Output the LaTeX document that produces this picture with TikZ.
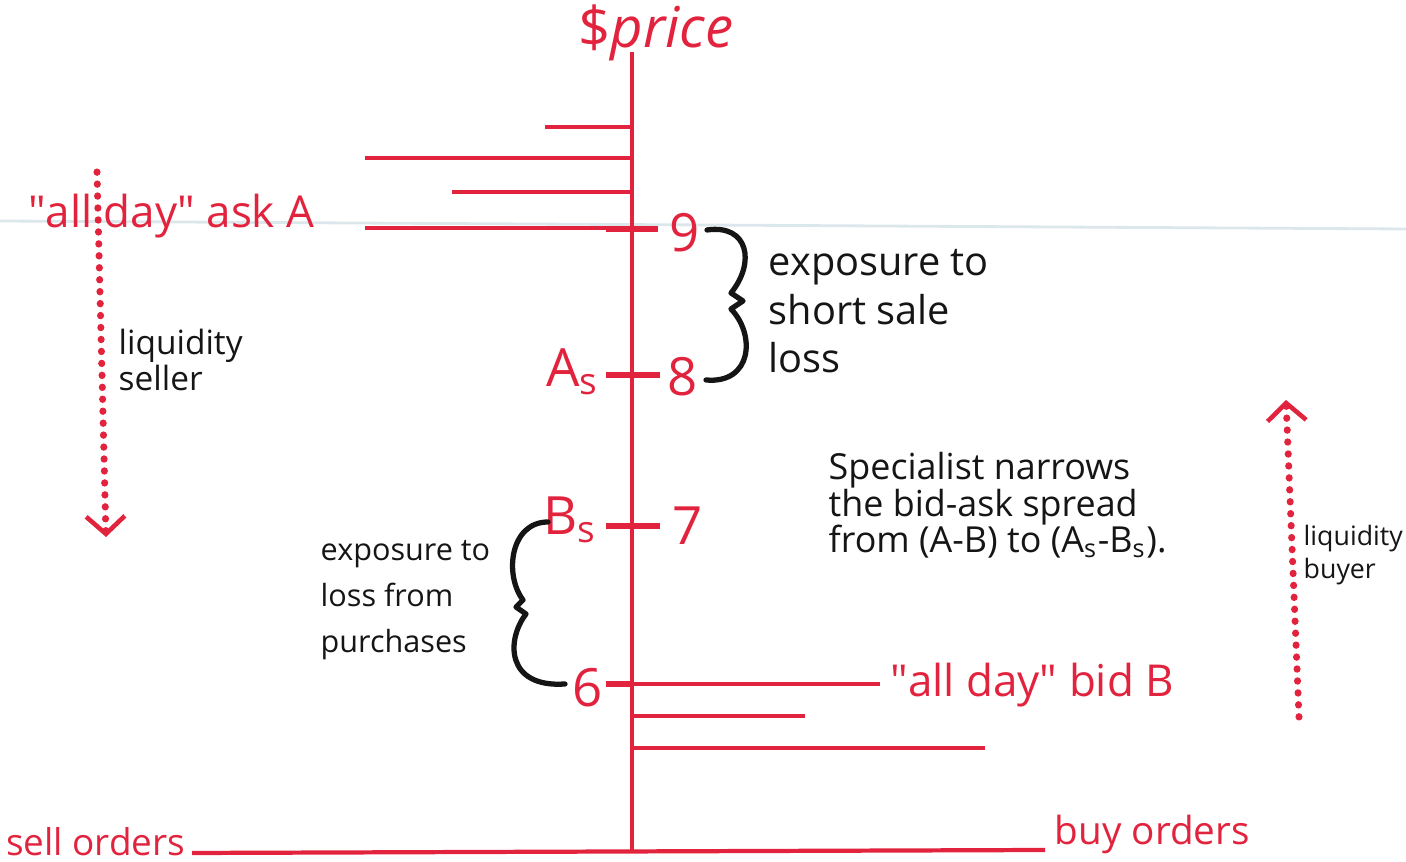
\documentclass[tikz,border=0pt]{standalone}
\usepackage{fontspec}
\setmainfont{Open Sans}
\usepackage{tikz}
\usetikzlibrary{arrows.meta}
\definecolor{inkred}{HTML}{E2233E}
\definecolor{inkblack}{HTML}{151515}
\definecolor{paperrule}{HTML}{DCE7EC}

\begin{document}
\begin{tikzpicture}[x=0.01cm, y=-0.01cm,
  bar/.style={draw=inkred, line width=1.2pt},
  tickmark/.style={draw=inkred, line width=1.6pt},
  lbl/.style={text=inkred, inner sep=0pt, font=\fontsize{12.5}{12.5}\selectfont},
  num/.style={text=inkred, inner sep=0pt, font=\fontsize{15}{15}\selectfont},
  note/.style={text=inkblack, inner sep=0pt, align=left},
  curly/.style={draw=inkblack, line width=1.5pt, line cap=round, line join=round},
  flow/.style={draw=inkred, line width=2pt, line cap=round, dash pattern=on 0.1pt off 3.3pt,
    -{Straight Barb[length=5pt, width=11pt, line width=1.3pt]}}]

  \useasboundingbox (0,0) rectangle (1406,862);

  % paper rule
  \coordinate (ruleL) at (0,221);
  \coordinate (ruleR) at (1406,229);
  \draw[paperrule, line width=0.8pt] (ruleL) -- (ruleR);

  % axes
  \coordinate (ytop) at (632,52);
  \coordinate (yfoot) at (632,852);
  \coordinate (xleft) at (192,853);
  \coordinate (xright) at (1045,850);
  \draw[bar] (ytop) -- (yfoot);
  \draw[bar] (xleft) -- (xright);
  \node[lbl, font=\fontsize{16}{16}\selectfont, anchor=base] (price) at (656,48) {\$\textit{price}};
  \node[lbl, font=\fontsize{10.5}{10.5}\selectfont, anchor=base east] (sell) at (186,856) {sell orders};
  \node[lbl, font=\fontsize{11}{11}\selectfont, anchor=base west] (buy) at (1054,845) {buy orders};

  % sell orders
  \foreach \i/\y/\x in {1/127/545, 2/158/365, 3/192/452, 4/228/365} {
    \coordinate (ask\i) at (\x,\y);
    \coordinate (ask\i axis) at (632,\y);
    \draw[bar] (ask\i) -- (ask\i axis);
  }
  \node[lbl, anchor=base east] (askA) at (315,228) {\textquotedbl all day\textquotedbl\ ask A};

  % buy orders
  \foreach \i/\y/\x in {1/684/880, 2/716/805, 3/748/985} {
    \coordinate (bid\i axis) at (632,\y);
    \coordinate (bid\i) at (\x,\y);
    \draw[bar] (bid\i axis) -- (bid\i);
  }
  \node[lbl, anchor=base west] (bidB) at (890,697) {\textquotedbl all day\textquotedbl\ bid B};

  % price ticks
  \coordinate (t9a) at (606,229);  \coordinate (t9b) at (658,229);
  \coordinate (t8a) at (606,375);  \coordinate (t8b) at (660,375);
  \coordinate (t7a) at (606,526);  \coordinate (t7b) at (660,526);
  \coordinate (t6a) at (606,684);  \coordinate (t6b) at (634,684);
  \draw[tickmark] (t9a) -- (t9b);
  \draw[tickmark] (t8a) -- (t8b);
  \draw[tickmark] (t7a) -- (t7b);
  \draw[tickmark] (t6a) -- (t6b);
  \node[num] (p9) at (685,233) {9};
  \node[num] (p8) at (683,377) {8};
  \node[num] (p7) at (688,526) {7};
  \node[num] (p6) at (588,688) {6};
  \node[num, anchor=east] (As) at (600,372) {A\textsubscript{s}};
  \node[num, anchor=east] (Bs) at (598,520) {B\textsubscript{s}};

  % braces
  \coordinate (shortT) at (707,230);
  \coordinate (shortB) at (706,380);
  \draw[curly] (shortT) .. controls (748,224) and (756,262) .. (731,293)
    -- (743,301) -- (731,309) .. controls (756,335) and (752,384) .. (shortB);
  \coordinate (buyT) at (548,522);
  \coordinate (buyB) at (565,684);
  \draw[curly] (buyT) .. controls (510,522) and (504,575) .. (523,600)
    -- (516,607) -- (526,614) .. controls (506,640) and (506,688) .. (buyB);

  % notes
  \node[note, anchor=north west, font=\fontsize{11.3}{13.7}\selectfont] (shortNote) at (768,249)
    {exposure to\\short sale\\loss};
  \node[note, anchor=north west, font=\fontsize{8.7}{13}\selectfont] (buyNote) at (320,540)
    {exposure to\\loss from\\purchases};
  \node[note, anchor=north west, font=\fontsize{10.2}{10.3}\selectfont] (spec) at (828,452)
    {Specialist narrows\\the bid-ask spread\\from (A-B) to (A\textsubscript{s}-B\textsubscript{s}).};

  % liquidity flows
  \coordinate (sellTop) at (97,172);
  \coordinate (sellEnd) at (106,537);
  \draw[flow] (sellTop) -- (sellEnd);
  \node[note, anchor=north west, font=\fontsize{9.5}{10.5}\selectfont] (liqSell) at (118,328)
    {liquidity\\seller};
  \coordinate (buyBot) at (1299,717);
  \coordinate (buyEnd) at (1286,400);
  \draw[flow] (buyBot) -- (buyEnd);
  \node[note, anchor=north west, font=\fontsize{7.6}{9.2}\selectfont] (liqBuy) at (1303,525)
    {liquidity\\buyer};

\end{tikzpicture}
\end{document}
